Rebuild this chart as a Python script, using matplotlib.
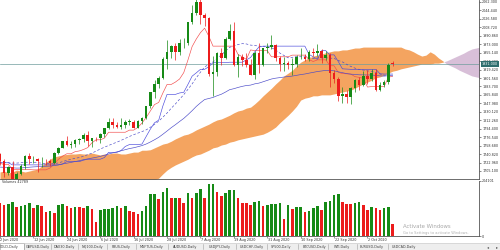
import numpy as np
import pandas as pd
import matplotlib
matplotlib.use("Agg")
import matplotlib.pyplot as plt
from matplotlib.transforms import blended_transform_factory
from matplotlib.patches import Rectangle
from matplotlib.lines import Line2D

# ---------------- data ----------------
dates = pd.bdate_range("2020-05-01", "2020-10-12")
first_visible = "2020-06-02"

opens = [1686, 1700, 1702, 1705, 1686, 1724, 1703, 1697, 1701, 1715, 1731, 1743, 1733, 1745, 1747, 1726, 1735, 1729, 1710, 1708, 1719, 1730,
         1740, 1727, 1700, 1714, 1685, 1698, 1715, 1737, 1730, 1730,
         1726, 1727, 1726, 1723, 1743, 1754, 1768, 1761, 1763, 1771,
         1772, 1781, 1769, 1775, 1774, 1783, 1795, 1809, 1803, 1798,
         1802, 1809, 1809, 1796, 1810, 1818, 1842, 1871, 1888, 1902,
         1942, 1957, 1970, 1957, 1975, 1976, 2019, 2038, 2062, 2035,
         2028, 1911, 1915, 1954, 1944, 1985, 2001, 1929, 1947, 1940,
         1929, 1908, 1954, 1929, 1964, 1968, 1971, 1944, 1931, 1934,
         1929, 1931, 1946, 1947, 1941, 1956, 1954, 1959, 1944, 1950,
         1912, 1900, 1863, 1868, 1862, 1881, 1898, 1886, 1906, 1900,
         1913, 1877, 1887, 1893, 1934]
highs = [1703, 1715, 1712, 1710, 1726, 1725, 1714, 1711, 1716, 1734, 1746, 1765, 1746, 1753, 1748, 1737, 1736, 1735, 1715, 1722, 1737, 1745,
         1744, 1731, 1715, 1726, 1702, 1719, 1739, 1744, 1736, 1733,
         1735, 1731, 1730, 1745, 1756, 1769, 1779, 1768, 1772, 1774,
         1785, 1789, 1775, 1777, 1785, 1796, 1818, 1818, 1809, 1817,
         1813, 1815, 1812, 1812, 1820, 1843, 1871, 1898, 1905, 1945,
         1981, 1971, 1975, 1984, 1987, 2020, 2055, 2069, 2075, 2040,
         2030, 1949, 1956, 1964, 1988, 2015, 2019, 1952, 1953, 1955,
         1941, 1958, 1976, 1966, 1976, 1993, 1974, 1949, 1945, 1938,
         1944, 1950, 1965, 1953, 1960, 1966, 1973, 1962, 1959, 1955,
         1918, 1903, 1882, 1877, 1882, 1900, 1903, 1916, 1918, 1920,
         1921, 1894, 1898, 1933, 1937]
lows = [1680, 1690, 1697, 1683, 1683, 1698, 1692, 1690, 1700, 1707, 1728, 1722, 1728, 1738, 1717, 1725, 1722, 1700, 1694, 1700, 1717, 1725,
        1718, 1693, 1696, 1671, 1679, 1696, 1710, 1719, 1721, 1704,
        1713, 1717, 1716, 1720, 1740, 1753, 1757, 1753, 1756, 1762,
        1766, 1757, 1756, 1768, 1765, 1776, 1793, 1796, 1795, 1793,
        1797, 1802, 1795, 1795, 1805, 1815, 1839, 1859, 1881, 1899,
        1920, 1943, 1939, 1950, 1964, 1971, 2016, 2034, 2015, 2012,
        1905, 1863, 1905, 1930, 1941, 1982, 1927, 1903, 1927, 1925,
        1907, 1900, 1912, 1926, 1955, 1962, 1937, 1917, 1917, 1921,
        1907, 1924, 1941, 1937, 1937, 1948, 1949, 1933, 1939, 1882,
        1891, 1854, 1849, 1848, 1847, 1873, 1876, 1885, 1888, 1896,
        1875, 1874, 1882, 1890, 1926]
closes = [1700, 1702, 1705, 1686, 1725, 1703, 1697, 1701, 1715, 1731, 1743, 1733, 1745, 1747, 1726, 1735, 1729, 1710, 1708, 1719, 1730, 1740,
          1727, 1700, 1714, 1685, 1698, 1715, 1737, 1730, 1730, 1726,
          1727, 1726, 1723, 1743, 1754, 1768, 1761, 1763, 1771, 1772,
          1781, 1769, 1775, 1774, 1783, 1795, 1809, 1803, 1798, 1802,
          1809, 1809, 1796, 1810, 1818, 1842, 1871, 1888, 1902, 1942,
          1957, 1970, 1957, 1975, 1976, 2019, 2038, 2062, 2035, 2028,
          1911, 1915, 1954, 1944, 1985, 2001, 1929, 1947, 1940, 1929,
          1908, 1954, 1929, 1964, 1968, 1971, 1944, 1931, 1934, 1929,
          1931, 1946, 1947, 1941, 1956, 1954, 1959, 1944, 1950, 1912,
          1900, 1863, 1868, 1862, 1881, 1898, 1886, 1906, 1900, 1913,
          1877, 1887, 1893, 1930, 1931]

# tick volume, 2 Jun .. 12 Oct
volumes = [122463, 115041, 118752, 126174, 107619, 111330, 115041, 122463, 103908, 115041,
           111330, 89064, 92775, 85353, 115041, 118752, 111330, 103908, 107619, 105764,
           102053, 111330, 99084, 53067, 96486, 98342, 100197, 105021, 111330, 102795,
           110588, 92775, 87951, 81642, 92775, 111330, 154749, 156975, 137307, 164397,
           179241, 139905, 142131, 141018, 121350, 158460, 142131, 160686, 173304, 139905,
           191859, 192972, 164397, 149553, 158460, 170706, 171819, 139905, 123576, 122463,
           115041, 127287, 129885, 111330, 115041, 116897, 118752, 120608, 61974, 115041,
           100197, 105764, 107619, 87951, 93888, 102795, 112443, 96486, 127287, 129143,
           152151, 154749, 127287, 118752, 116897, 122463, 124319, 115041, 96486, 108732,
           105021, 96486, 105021, 106506, 42789]

# Ichimoku cloud (Senkou spans, already shifted forward), from 2 Jun onwards
span_a = [1703, 1705, 1701, 1703, 1707, 1705, 1703, 1705, 1707, 1709,
          1716, 1724, 1730, 1735, 1737, 1739,
          1740, 1741, 1741, 1742, 1741, 1741, 1743, 1741, 1739, 1741, 1741, 1743, 1743, 1741, 1741, 1743, 1745, 1745,
          1749, 1749,
          1750, 1754, 1758, 1762, 1764, 1768, 1773, 1777, 1781, 1783, 1787, 1792, 1796, 1800, 1804, 1809, 1813, 1815,
          1819, 1823, 1828, 1832, 1834, 1838, 1840,
          1847, 1855, 1864, 1872, 1880, 1889, 1897, 1906, 1912, 1918, 1927, 1935,
          1940, 1944, 1948, 1950, 1952, 1955, 1957, 1959, 1959, 1961, 1961, 1963, 1965, 1965, 1967, 1967, 1967, 1967,
          1967, 1967, 1967, 1967, 1967, 1967,
          1963, 1961, 1957, 1952, 1948, 1950, 1957, 1952, 1944, 1938,
          1931, 1927, 1923, 1918, 1914, 1910, 1906, 1904, 1902]
span_b = [1675, 1675, 1676, 1676, 1676, 1675, 1675, 1676, 1676, 1676, 1675, 1675,
          1676, 1676, 1676, 1675, 1675, 1675, 1676, 1676, 1676, 1675, 1675, 1675,
          1676, 1676, 1676, 1675, 1675, 1675, 1676, 1676, 1676, 1675, 1675, 1675,
          1675, 1686, 1690, 1699, 1707, 1713, 1718, 1722, 1726, 1730, 1735, 1739, 1741,
          1745, 1749, 1754, 1756, 1760, 1762, 1766, 1768, 1771, 1773, 1775, 1777,
          1779, 1781, 1783, 1787, 1792, 1798, 1807, 1815, 1823, 1832, 1842, 1855,
          1859, 1861, 1864, 1864, 1866, 1866, 1866, 1868, 1870, 1872, 1874, 1876,
          1880, 1885, 1889, 1893, 1897, 1902, 1904, 1908, 1912, 1916, 1918, 1921,
          1923, 1925, 1927, 1929, 1931, 1931, 1931, 1933, 1933, 1935,
          1938, 1942, 1946, 1950, 1954, 1959, 1963, 1965, 1967]

date_labels = ["2 Jun 2020", "12 Jun 2020", "24 Jun 2020", "6 Jul 2020", "16 Jul 2020", "28 Jul 2020",
               "7 Aug 2020", "19 Aug 2020", "31 Aug 2020", "10 Sep 2020", "22 Sep 2020", "2 Oct 2020"]
price_ticks = [2062.300, 2044.440, 2026.580, 2008.720, 1990.860, 1973.000, 1955.140, 1937.280,
               1919.420, 1901.560, 1883.700, 1865.840, 1847.980, 1830.120, 1812.260, 1794.400,
               1776.540, 1758.680, 1740.820, 1722.960, 1705.100]
volume_ticks = [0, 204101]
tabs = ["GOLD,Daily", "GBPUSD,Daily", "DAX30,Daily", "NQ100,Daily", "FBUS,Daily", "MSFTUS,Daily",
        "AUDUSD,Daily", "USDJPY,Daily", "USDCHF,Daily", "SP500,Daily", "BTCUSD,Daily", "WTI,Daily",
        "EURUSD,Daily", "USDCAD,Daily"]
tab_centers_px = [9, 38, 64, 92, 121, 151, 185, 220, 252, 281, 314, 342, 372, 404]

# ---------------- styles ----------------
GREEN = "#168a16"
RED = "#ec1c1c"
UPCLOUD = "#F4A460"
DNCLOUD = "#D8BFD8"
FS = 2.4
W, H = 500, 250

plt.rcParams["font.family"] = ["DejaVu Sans"]
fig = plt.figure(figsize=(5, 2.5), dpi=100, facecolor="white")

ax = fig.add_axes([0, 1 - 179 / H, 479 / W, 179 / H])
axv = fig.add_axes([0, 1 - 236 / H, 479 / W, 55 / H], sharex=ax)

n_lb = list(dates).index(pd.Timestamp(first_visible))
o = np.array(opens, float); h = np.array(highs, float)
l = np.array(lows, float); c = np.array(closes, float)
x = np.arange(len(c)) - n_lb
up = c >= o
cols = np.where(up, GREEN, RED)

# cloud
A = np.array(span_a, float); B = np.array(span_b, float)
xc = np.arange(len(A))
ax.fill_between(xc, A, B, where=A >= B, color=UPCLOUD, lw=0, interpolate=True, zorder=1)
ax.fill_between(xc, A, B, where=A <= B, color=DNCLOUD, lw=0, interpolate=True, zorder=1)

# indicators
Hs, Ls, Cs = pd.Series(h), pd.Series(l), pd.Series(c)
tenkan = (Hs.rolling(9, min_periods=1).max() + Ls.rolling(9, min_periods=1).min()) / 2
kijun = (Hs.rolling(26, min_periods=1).max() + Ls.rolling(26, min_periods=1).min()) / 2
sma20 = Cs.rolling(20, min_periods=1).mean()
ema50 = Cs.ewm(span=50, adjust=False).mean()
ax.plot(x, tenkan, color="#f24a4a", lw=0.45, zorder=3)
ax.plot(x, kijun, color="#4848dc", lw=0.45, zorder=3)
ax.plot(x, sma20, color="#4848c8", lw=0.45, ls=(0, (4, 3)), zorder=3)
ax.plot(x, ema50, color="#4848c8", lw=0.45, zorder=3)

# candles
ax.vlines(x, l, h, colors=cols, lw=0.5, zorder=4)
body_lo = np.minimum(o, c)
body_h = np.maximum(np.abs(c - o), 0.8)
ax.bar(x, body_h, bottom=body_lo, width=0.62, color=cols, lw=0, zorder=5)

# current price line and label
last = c[-1]
ax.axhline(last, color="#6f9d9d", lw=0.5, zorder=2)
trans = blended_transform_factory(ax.transAxes, ax.transData)
ax.text(1.006, last, f"{last:.3f}", transform=trans, ha="left", va="center", fontsize=FS,
        color="white", zorder=20, clip_on=False,
        bbox=dict(boxstyle="square,pad=0.3", fc="#2f6d6d", ec="none"))

ax.set_xlim(0.667, 114.7)
ax.set_ylim(1688.17, 2066.5)
ax.set_yticks(price_ticks)
ax.set_yticklabels([f"{t:.3f}" for t in price_ticks])
ax.yaxis.tick_right()
ax.tick_params(axis="y", direction="out", length=1.5, width=0.4, pad=0.8, labelsize=FS,
               colors="#333333")
ax.tick_params(axis="x", bottom=False, labelbottom=False)
for s in ["top", "left"]:
    ax.spines[s].set_visible(False)
for s in ["right", "bottom"]:
    ax.spines[s].set_color("#555555")
    ax.spines[s].set_linewidth(0.6)
ax.set_facecolor("white")

# volumes
v = np.array(volumes, float)
xv = np.arange(len(v))
prev = np.concatenate([[np.inf], v[:-1]])
vcols = np.where(v > prev, GREEN, RED)
axv.bar(xv, v, width=0.62, color=vcols, lw=0)
axv.set_ylim(0, 204101)
axv.set_yticks(volume_ticks)
axv.set_yticklabels([str(t) for t in volume_ticks])
axv.yaxis.tick_right()
axv.tick_params(axis="y", direction="out", length=1.5, width=0.4, pad=0.8, labelsize=FS,
                colors="#333333")
axv.text(0.004, 0.975, f"Volumes {volumes[-1]}", transform=axv.transAxes, ha="left", va="center",
         fontsize=FS, color="#333333")
for s in ["top", "left"]:
    axv.spines[s].set_visible(False)
for s in ["right", "bottom"]:
    axv.spines[s].set_color("#555555")
    axv.spines[s].set_linewidth(0.6)

# date labels
date_pos = [list(dates).index(pd.to_datetime(d, format="%d %b %Y")) - n_lb for d in date_labels]
axv.set_xticks(date_pos)
axv.tick_params(axis="x", direction="out", length=1.5, width=0.4, labelbottom=False, colors="#555555")
tv = blended_transform_factory(axv.transData, axv.transAxes)
for p, lab in zip(date_pos, date_labels):
    axv.text(p + 0.1, -0.075, lab, transform=tv, ha="left", va="center", fontsize=FS,
             color="#333333", clip_on=False)

# tab bar
fig.patches.append(Rectangle((0, 0), 1, 7 / H, transform=fig.transFigure, fc="#eeeeee",
                             ec="none", zorder=0))
fig.lines.append(Line2D([0, 1], [7 / H, 7 / H], transform=fig.transFigure, color="#c8c8c8", lw=0.4))
fig.patches.append(Rectangle((0, 0), 24 / W, 7 / H, transform=fig.transFigure, fc="white",
                             ec="#9a9a9a", lw=0.4, zorder=1))
for i, (name, cx) in enumerate(zip(tabs, tab_centers_px)):
    fig.text(cx / W, 3.2 / H, name, ha="center", va="center", fontsize=FS, color="#404040")
    if i < len(tabs) - 1:
        sx = (cx + tab_centers_px[i + 1]) / 2 / W
        fig.lines.append(Line2D([sx, sx], [1 / H, 6 / H], transform=fig.transFigure,
                                color="#a0a0a0", lw=0.4))
fig.text(488 / W, 3.2 / H, "\u25c2", ha="center", va="center", fontsize=3, color="#555555")
fig.text(497 / W, 3.2 / H, "\u25b8", ha="center", va="center", fontsize=3, color="#555555")

# watermark
fig.text(403 / W, 1 - 226 / H, "Activate Windows", ha="left", va="center", fontsize=3.9,
         color="#a8a8a8")
fig.text(403 / W, 1 - 233 / H, "Go to Settings to activate Windows.", ha="left", va="center",
         fontsize=2.6, color="#b0b0b0")

fig.savefig("out.png", dpi=100, facecolor="white")
